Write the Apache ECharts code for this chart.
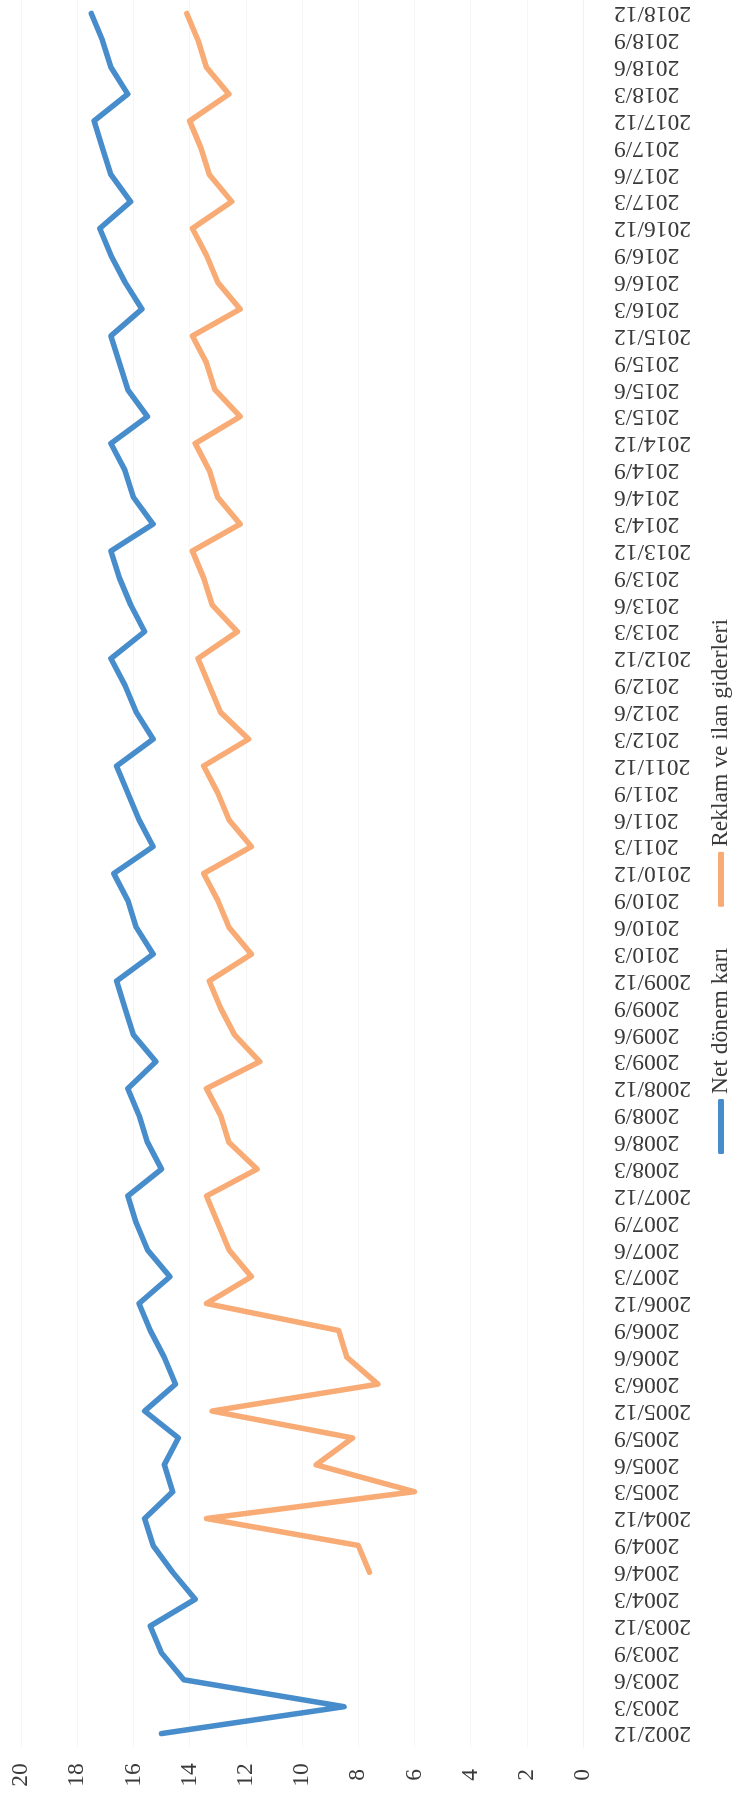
<!DOCTYPE html>
<html>
<head>
<meta charset="utf-8">
<script src="https://cdn.jsdelivr.net/npm/echarts@6/dist/echarts.min.js"></script>
<style>
  html, body { margin: 0; padding: 0; background: #ffffff; }
  #frame { position: relative; width: 734px; height: 1801px; overflow: hidden; background: #ffffff; }
  /* The chart is laid out landscape and turned a quarter turn counter-clockwise */
  #chart { position: absolute; left: 0; top: 0; width: 1801px; height: 734px;
           transform-origin: 0 0; transform: translateY(1801px) rotate(-90deg); }
</style>
</head>
<body>
<div id="frame"><div id="chart"></div></div>
<script>
// Quarter ends, 2002/12 to 2018/12
const categories = [
  '2002/12',
  '2003/3', '2003/6', '2003/9', '2003/12',
  '2004/3', '2004/6', '2004/9', '2004/12',
  '2005/3', '2005/6', '2005/9', '2005/12',
  '2006/3', '2006/6', '2006/9', '2006/12',
  '2007/3', '2007/6', '2007/9', '2007/12',
  '2008/3', '2008/6', '2008/9', '2008/12',
  '2009/3', '2009/6', '2009/9', '2009/12',
  '2010/3', '2010/6', '2010/9', '2010/12',
  '2011/3', '2011/6', '2011/9', '2011/12',
  '2012/3', '2012/6', '2012/9', '2012/12',
  '2013/3', '2013/6', '2013/9', '2013/12',
  '2014/3', '2014/6', '2014/9', '2014/12',
  '2015/3', '2015/6', '2015/9', '2015/12',
  '2016/3', '2016/6', '2016/9', '2016/12',
  '2017/3', '2017/6', '2017/9', '2017/12',
  '2018/3', '2018/6', '2018/9', '2018/12'
];

const seriesNames = ['Net dönem karı', 'Reklam ve ilan giderleri'];

const netProfit = [
  15.0,
  8.5, 14.2, 15.0, 15.4,
  13.8, 14.6, 15.3, 15.6,
  14.6, 14.9, 14.4, 15.6,
  14.5, 14.9, 15.4, 15.8,
  14.7, 15.5, 15.9, 16.2,
  15.0, 15.5, 15.8, 16.2,
  15.2, 16.0, 16.3, 16.6,
  15.3, 15.9, 16.2, 16.7,
  15.3, 15.8, 16.2, 16.6,
  15.3, 15.9, 16.3, 16.8,
  15.6, 16.1, 16.5, 16.8,
  15.3, 16.0, 16.3, 16.8,
  15.5, 16.2, 16.5, 16.8,
  15.7, 16.3, 16.8, 17.2,
  16.1, 16.8, 17.1, 17.4,
  16.2, 16.8, 17.1, 17.5
];

const adSpending = [
  null,
  null, null, null, null,
  null, 7.6, 8.0, 13.4,
  6.0, 9.5, 8.2, 13.2,
  7.3, 8.4, 8.7, 13.4,
  11.8, 12.6, 13.0, 13.4,
  11.6, 12.6, 12.9, 13.4,
  11.5, 12.4, 12.9, 13.3,
  11.8, 12.6, 13.0, 13.5,
  11.8, 12.6, 13.0, 13.5,
  11.9, 12.9, 13.3, 13.7,
  12.3, 13.2, 13.5, 13.9,
  12.2, 13.0, 13.3, 13.8,
  12.2, 13.1, 13.4, 13.9,
  12.2, 13.0, 13.4, 13.9,
  12.5, 13.3, 13.6, 14.0,
  12.6, 13.4, 13.7, 14.1
];

const valueTicks = { min: 0, max: 20, interval: 2 };

const FONT = "'Liberation Serif', 'Times New Roman', serif";
const TEXT = '#3a3a3a';

const chart = echarts.init(document.getElementById('chart'));
chart.setOption({
  animation: false,
  backgroundColor: '#ffffff',
  color: ['#488dcb', '#f8ab74'],
  textStyle: { fontFamily: FONT },
  grid: { left: 54, top: 21, width: 1748, height: 562 },
  xAxis: {
    type: 'category',
    data: categories,
    boundaryGap: true,
    axisLine: { show: true, lineStyle: { color: '#f2f2f2', width: 1 } },
    axisTick: { show: false },
    axisLabel: {
      interval: 0, rotate: 90, margin: 31,
      padding: [0, 0, 14, 0],
      fontFamily: FONT, fontSize: 23.5, color: TEXT
    },
    splitLine: { show: false }
  },
  yAxis: {
    type: 'value',
    min: valueTicks.min, max: valueTicks.max, interval: valueTicks.interval,
    axisLine: { show: false },
    axisTick: { show: false },
    axisLabel: { align: 'center', margin: 28, fontFamily: FONT, fontSize: 23.5, color: TEXT },
    splitLine: { show: true, lineStyle: { color: '#f5f5f5', width: 1 } }
  },
  legend: {
    left: 642, top: 704,
    icon: 'roundRect',
    itemWidth: 55, itemHeight: 6, itemGap: 41,
    textStyle: { fontFamily: FONT, fontSize: 23.5, color: TEXT },
    data: seriesNames
  },
  series: [
    {
      name: seriesNames[0], type: 'line', data: netProfit,
      showSymbol: false, symbol: 'none',
      lineStyle: { width: 5.5, cap: 'round', join: 'round' }
    },
    {
      name: seriesNames[1], type: 'line', data: adSpending,
      showSymbol: false, symbol: 'none',
      lineStyle: { width: 5.5, cap: 'round', join: 'round' }
    }
  ]
});
</script>
</body>
</html>
